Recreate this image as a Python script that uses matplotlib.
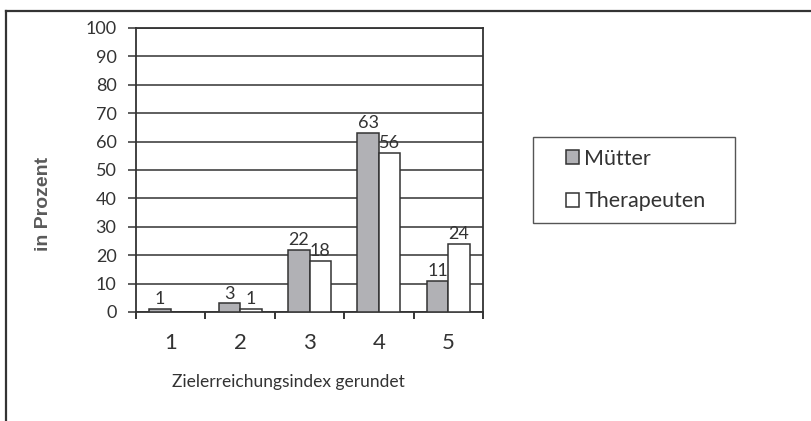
import matplotlib
matplotlib.use("Agg")
import matplotlib.pyplot as plt
from matplotlib.lines import Line2D
from matplotlib.patches import Rectangle
import numpy as np

# Werte in Prozent je gerundetem Zielerreichungsindex
categories = ["1", "2", "3", "4", "5"]
muetter = [1, 3, 22, 63, 11]
therapeuten = [0, 1, 18, 56, 24]
series_names = ["Mütter", "Therapeuten"]
y_ticks = list(range(0, 101, 10))

ink = "#333333"
grey_fill = "#b1b1b5"

plt.rcParams["font.family"] = ["Lato", "DejaVu Sans"]
plt.rcParams["text.color"] = ink

fig = plt.figure(figsize=(8.12, 4.21), dpi=100)
ax = fig.add_axes([136 / 812, 1 - 312 / 421, (483 - 136) / 812, (312 - 28) / 421])

x = np.arange(len(categories))
w = 0.31
b1 = ax.bar(x - w / 2, muetter, w, color=grey_fill, edgecolor=ink, linewidth=1.1,
            label=series_names[0], zorder=3)
b2 = ax.bar(x + w / 2, therapeuten, w, color="white", edgecolor=ink, linewidth=1.1,
            label=series_names[1], zorder=3)

for bars, vals in ((b1, muetter), (b2, therapeuten)):
    for rect, v in zip(bars, vals):
        if v == 0:
            continue
        ax.text(rect.get_x() + rect.get_width() / 2, v + 0.6, str(v),
                ha="center", va="bottom", fontsize=13, color=ink, zorder=4)

ax.set_xlim(-0.5, len(categories) - 0.5)
ax.set_ylim(0, 100)
ax.set_yticks(y_ticks)
ax.set_yticklabels([str(t) for t in y_ticks], fontsize=13, color=ink)
ax.tick_params(axis="y", direction="out", length=6, width=1.1, color=ink, pad=8)
ax.yaxis.grid(True, color=ink, linewidth=1.1, zorder=0)

# Kategorie-Beschriftung mittig, Teilstriche an den Grenzen
ax.set_xticks(x)
ax.set_xticklabels(categories, fontsize=16, color=ink)
ax.set_xticks(np.arange(-0.5, len(categories)), minor=True)
ax.tick_params(axis="x", which="major", length=0, pad=15)
ax.tick_params(axis="x", which="minor", direction="out", length=5, width=1.4, color=ink)

for side in ("left", "right", "top", "bottom"):
    ax.spines[side].set_color(ink)
    ax.spines[side].set_linewidth(1.3)
ax.set_axisbelow(True)

fig.text(44 / 812, 1 - 204 / 421, "in Prozent", rotation=90, ha="center", va="center",
         fontsize=14, fontweight="bold", color="#5a5a5a", family="Liberation Sans")
fig.text(288 / 812, 1 - 382 / 421, "Zielerreichungsindex gerundet",
         ha="center", va="center", fontsize=12.5, color=ink)

# Legende mit eigenem Rahmen
fig.patches.append(Rectangle((533 / 812, 1 - 223 / 421), 202 / 812, 86 / 421,
                             transform=fig.transFigure, fill=False,
                             edgecolor="#555555", linewidth=1.0))
fig.legend(handles=[b1, b2], labels=series_names, loc="center left",
           bbox_to_anchor=(551 / 812, 1 - 180 / 421), frameon=False, fontsize=15.5,
           handlelength=0.6, handleheight=0.6, handletextpad=0.25, labelspacing=1.05,
           labelcolor=ink, borderpad=0.2)

# Außenrahmen oben und links
fig.add_artist(Line2D([6 / 812, 1.0], [1 - 11 / 421, 1 - 11 / 421],
                      transform=fig.transFigure, color=ink, linewidth=1.6))
fig.add_artist(Line2D([6 / 812, 6 / 812], [1 - 11 / 421, 0.0],
                      transform=fig.transFigure, color=ink, linewidth=1.6))

fig.savefig("out.png", dpi=100)
